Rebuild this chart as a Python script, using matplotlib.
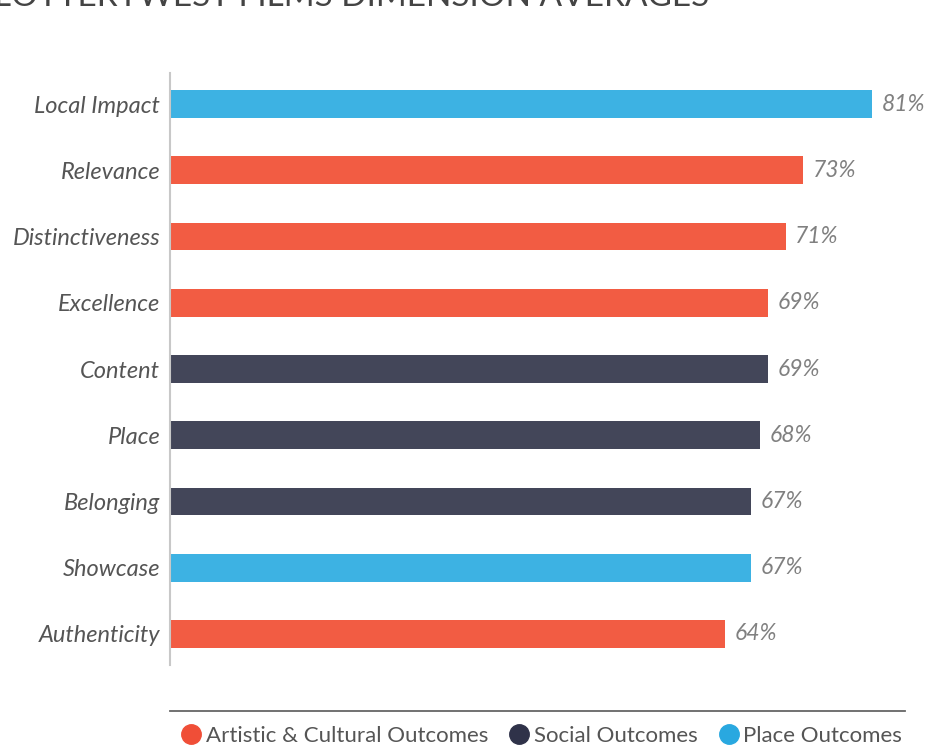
import matplotlib.pyplot as plt
from matplotlib.lines import Line2D

# dimension averages, top to bottom
dimensions = ['Local Impact', 'Relevance', 'Distinctiveness', 'Excellence', 'Content',
              'Place', 'Belonging', 'Showcase', 'Authenticity']
scores = [81, 73, 71, 69, 69, 68, 67, 67, 64]
groups = ['place', 'artistic', 'artistic', 'artistic', 'social',
          'social', 'social', 'place', 'artistic']

bar_colors = {'artistic': '#F25C43', 'social': '#434659', 'place': '#3DB2E3'}
dot_colors = {'artistic': '#F04E37', 'social': '#2F3249', 'place': '#29A8E0'}
legend_labels = {'artistic': 'Artistic & Cultural Outcomes',
                 'social': 'Social Outcomes',
                 'place': 'Place Outcomes'}

plt.rcParams['font.family'] = ['Lato', 'DejaVu Sans']

fig = plt.figure(figsize=(9.28, 7.49), dpi=100)
ax = fig.add_axes([170 / 928, 84 / 749, 758 / 928, 592 / 749])

ypos = list(range(len(dimensions)))
ax.barh(ypos, scores, height=0.42, color=[bar_colors[g] for g in groups])
ax.set_ylim(len(dimensions) - 1 + 0.47, -0.47)
ax.set_xlim(0, 87.4)

for y, v in zip(ypos, scores):
    ax.text(v + 1.1, y, f'{v}%', va='center', ha='left', fontsize=16.5,
            style='italic', color='#808080')

ax.set_yticks(ypos)
ax.set_yticklabels(dimensions, fontsize=17, style='italic', color='#555555')
ax.tick_params(axis='y', length=0, pad=7)
ax.set_xticks([])
for side in ['top', 'right', 'bottom']:
    ax.spines[side].set_visible(False)
ax.spines['left'].set_color('#c8c8c8')
ax.spines['left'].set_linewidth(1.5)

# title cut off at the top edge, as in the source
fig.text(-6 / 928, 1 - 6 / 749, 'LOTTERYWEST FILMS DIMENSION AVERAGES', fontsize=24,
         color='#444444', ha='left', va='baseline')

# rule above the legend
fig.add_artist(Line2D([170 / 928, 905 / 928], [1 - 711 / 749, 1 - 711 / 749],
                      transform=fig.transFigure, color='#666666', lw=1.3))

handles = [Line2D([], [], marker='o', ls='none', markersize=14,
                  markerfacecolor=dot_colors[k], markeredgecolor=dot_colors[k])
           for k in ['artistic', 'social', 'place']]
leg = fig.legend(handles, [legend_labels[k] for k in ['artistic', 'social', 'place']],
                 loc='center', bbox_to_anchor=(541 / 928, 1 - 736 / 749), ncol=3,
                 frameon=False, fontsize=16, handletextpad=0.15, columnspacing=0.9,
                 handlelength=1.0, borderpad=0, borderaxespad=0)
for t in leg.get_texts():
    t.set_color('#555555')

fig.savefig('out.png', dpi=100)
